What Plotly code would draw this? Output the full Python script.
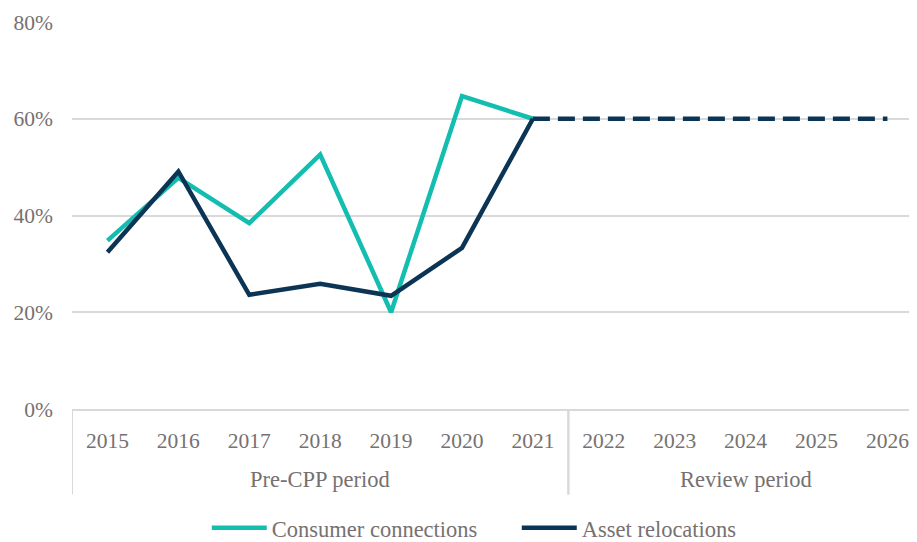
import plotly.graph_objects as go

years = ["2015", "2016", "2017", "2018", "2019", "2020", "2021",
         "2022", "2023", "2024", "2025", "2026"]
period_names = ["Pre-CPP period", "Review period"]
period_first = ["2015", "2022"]
period_last = ["2021", "2026"]

consumer = [34.8, 47.8, 38.4, 52.6, 20.0, 64.7, 60.0]
asset = [32.4, 49.1, 23.6, 25.9, 23.4, 33.3, 60.0]
forecast_years = ["2021", "2022", "2023", "2024", "2025", "2026"]
forecast = [60, 60, 60, 60, 60, 60]

y_ticks = [0, 20, 40, 60, 80]
y_labels = [f"{v}%" for v in y_ticks]

TEAL = "#13bdb0"
NAVY = "#0c3454"
TEXT = "#767171"
GRID = "#d9d9d9"
FONT = "Liberation Serif"

fig = go.Figure()
fig.add_trace(go.Scatter(x=years[:7], y=consumer, mode="lines",
                         name="Consumer connections",
                         line=dict(color=TEAL, width=4.5)))
fig.add_trace(go.Scatter(x=years[:7], y=asset, mode="lines",
                         name="Asset relocations",
                         line=dict(color=NAVY, width=4.5)))
fig.add_trace(go.Scatter(x=forecast_years, y=forecast, mode="lines",
                         showlegend=False,
                         line=dict(color=NAVY, width=4.5, dash="17px,8px")))

# period labels and dividers
for name, a, b in zip(period_names, period_first, period_last):
    ia, ib = years.index(a), years.index(b)
    fig.add_annotation(x=(ia + ib) / 2, y=-0.1825, xref="x", yref="paper",
                       text=name, showarrow=False, yanchor="middle",
                       font=dict(family=FONT, size=22.5, color=TEXT))
    for edge in (ia - 0.5, ib + 0.5):
        fig.add_shape(type="line", xref="x", yref="paper",
                      x0=edge, x1=edge, y0=0, y1=-0.221,
                      line=dict(color=GRID, width=2), layer="below")

fig.update_layout(
    width=917, height=542,
    margin=dict(l=64, r=0, t=14, b=139),
    paper_bgcolor="white", plot_bgcolor="white",
    font=dict(family=FONT, color=TEXT, size=21),
    showlegend=True,
    legend=dict(orientation="h", x=0.158, xanchor="left", y=-0.308, yanchor="middle",
                font=dict(size=22.5, color=TEXT), itemwidth=55, entrywidth=240,
                traceorder="normal"),
)
fig.update_xaxes(type="category", categoryorder="array", categoryarray=years,
                 range=[-0.5, 11.53],
                 showline=True, linecolor=GRID, linewidth=2,
                 showgrid=False, ticks="", ticklabelstandoff=11,
                 tickfont=dict(size=21.5, color=TEXT))
fig.update_yaxes(range=[0, 80], tickmode="array", tickvals=y_ticks, ticktext=y_labels,
                 showgrid=True, gridcolor=GRID, gridwidth=2,
                 zeroline=False, showline=False, ticks="",
                 ticklabelstandoff=18, tickfont=dict(size=21.5, color=TEXT))

fig.write_html("out.html")
